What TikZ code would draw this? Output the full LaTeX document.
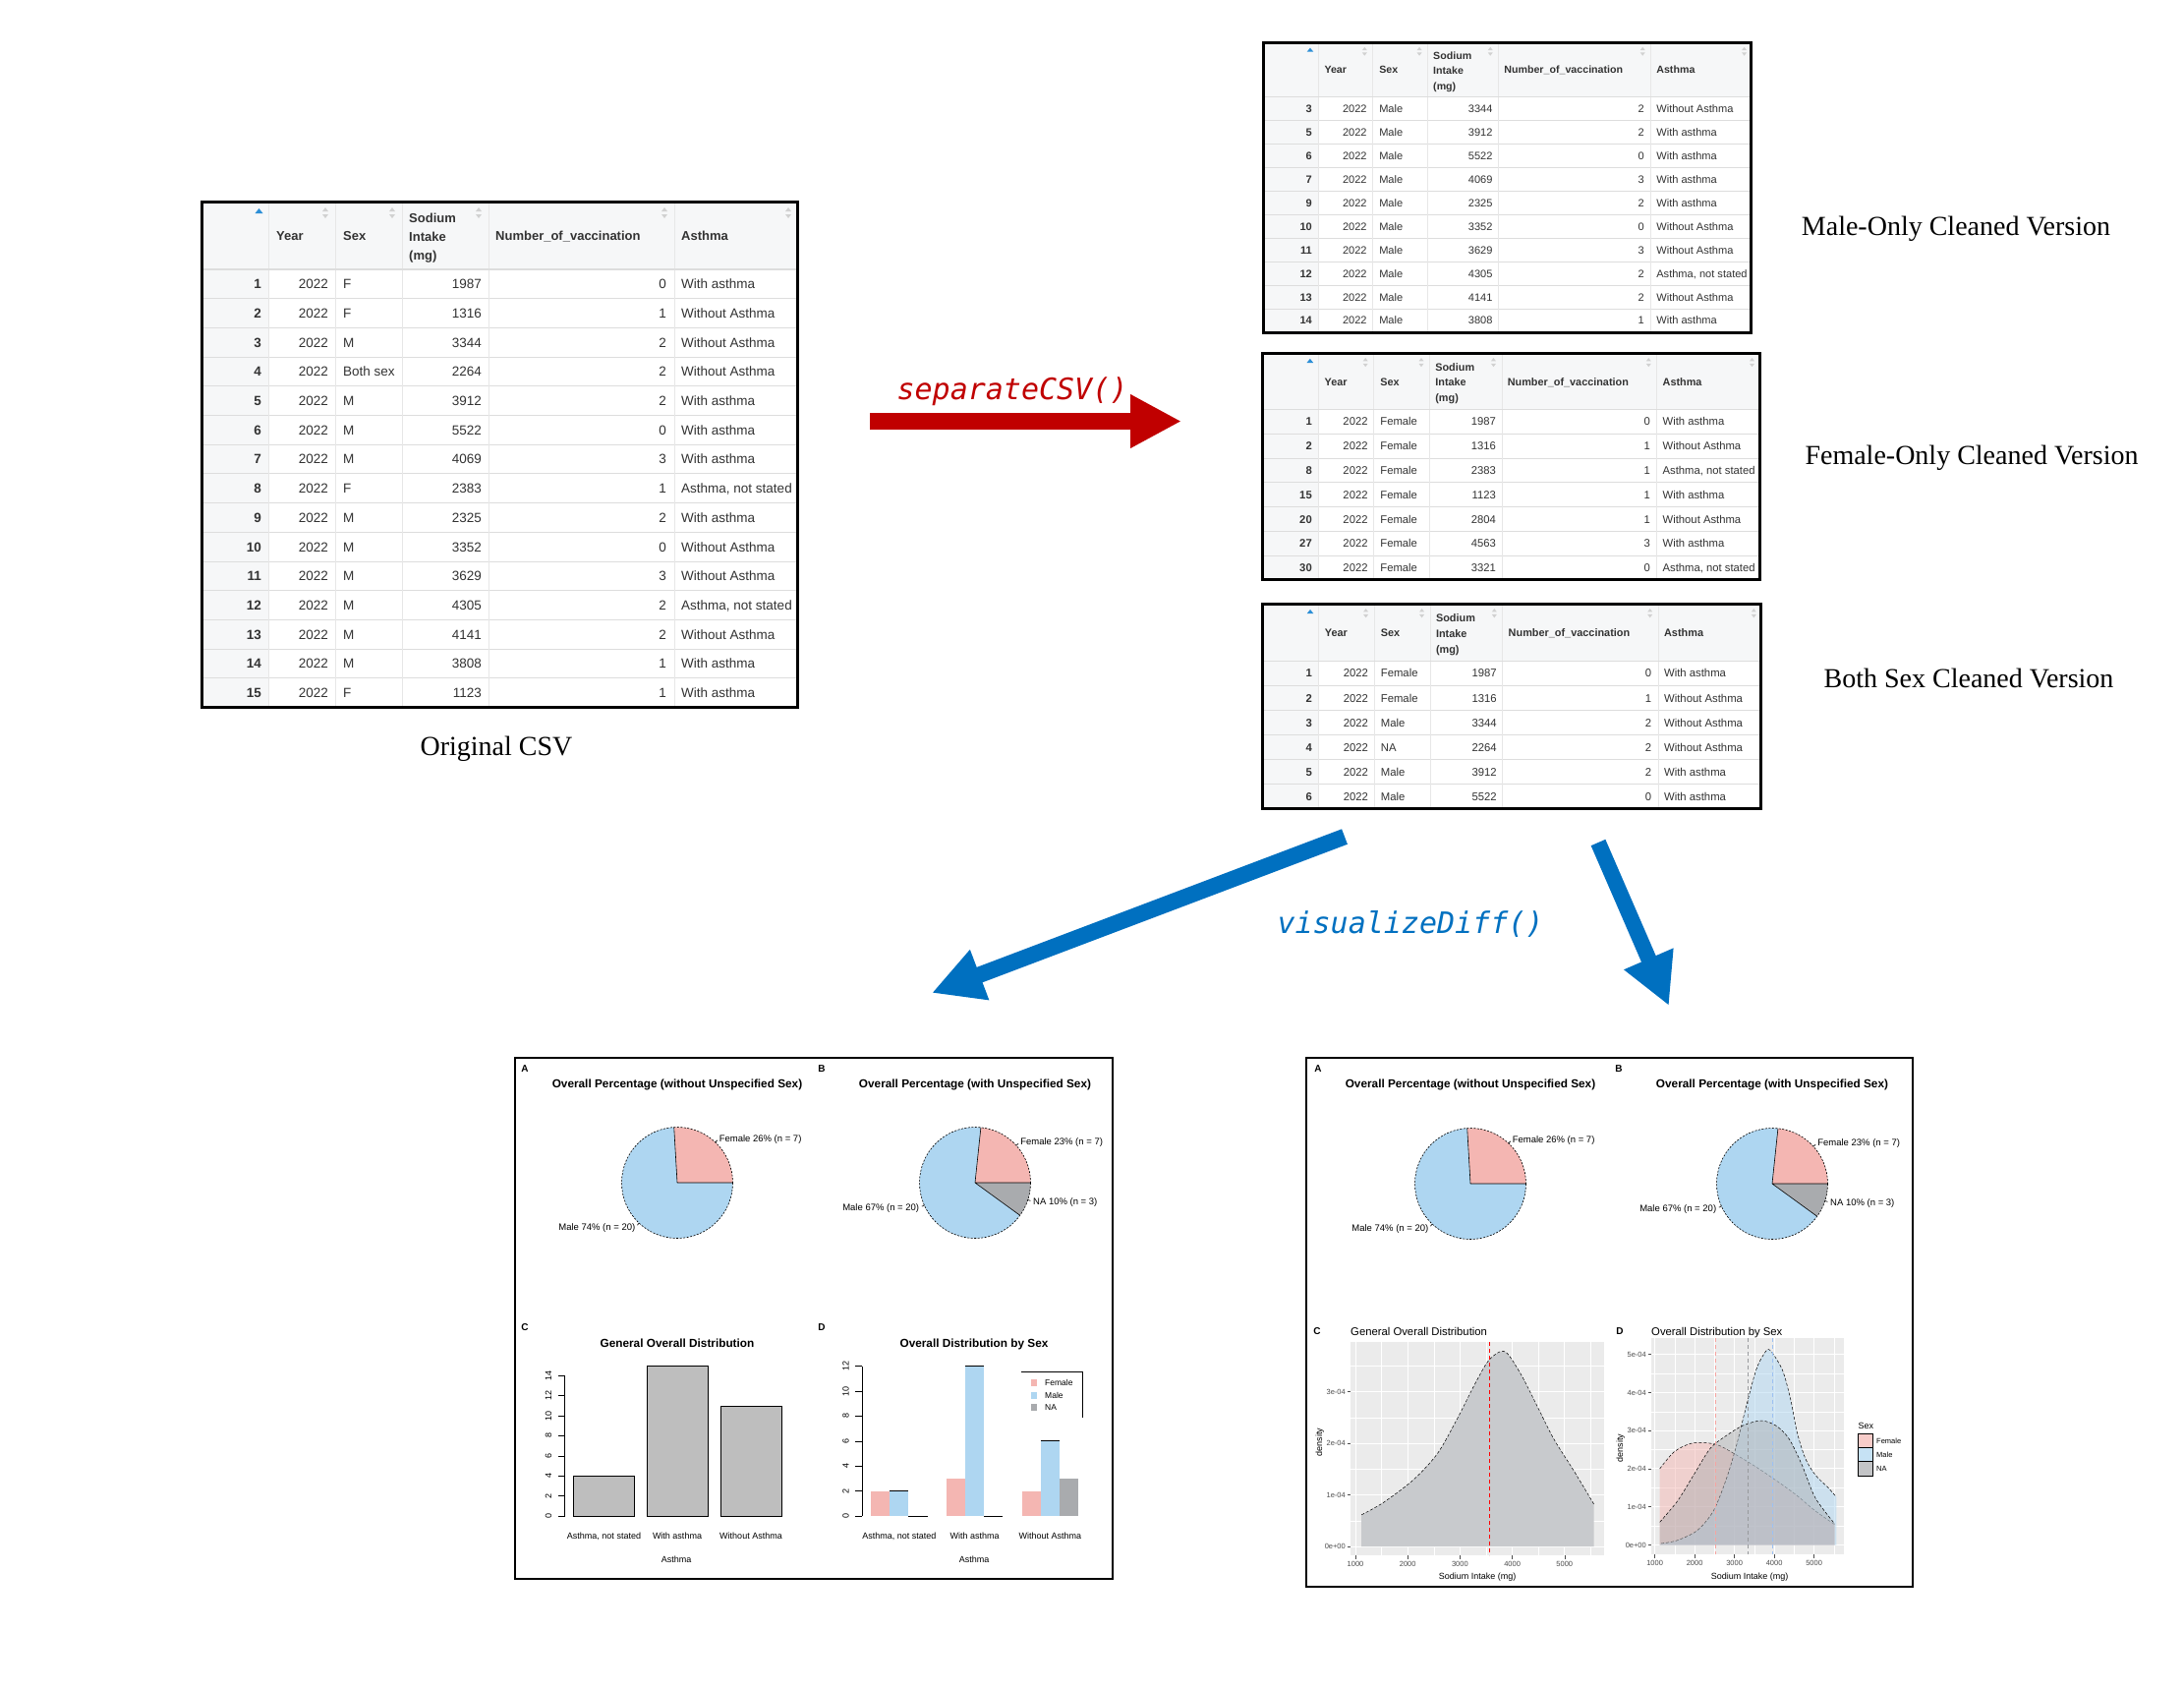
\documentclass[tikz,border=0pt]{standalone}
\usepackage{fontspec}
\setmainfont{Liberation Sans}
\newfontfamily\serifcap{Liberation Serif}
\newfontfamily\codefont{DejaVu Sans Mono}[ItalicFont={DejaVu Sans Mono Oblique}]
\usepackage{xcolor}
\usepackage{tikz}
\usetikzlibrary{arrows.meta}
\definecolor{arrowRed}{HTML}{C00000}
\definecolor{arrowBlue}{HTML}{0070C0}
\definecolor{femPink}{HTML}{F4B6B2}
\definecolor{maleBlue}{HTML}{AED6F1}
\definecolor{naGray}{HTML}{A9ABAE}
\definecolor{barGray}{HTML}{BEBEBE}
\definecolor{ggPanel}{HTML}{EBEBEB}
\definecolor{densFill}{HTML}{C8CACD}
\definecolor{ruleGray}{HTML}{DDDDDD}
\definecolor{headFill}{HTML}{F6F7F8}
\definecolor{axisText}{HTML}{4D4D4D}
\definecolor{sortBlue}{HTML}{2C8FD6}
\definecolor{cellText}{HTML}{333333}
\definecolor{meanRed}{HTML}{FF0000}

\newcommand{\setfs}[1]{\fontsize{#1}{#1}\selectfont}

% one data table in its own frame: #1 name, #2 rows, #3 id/sex/sodium/vacc/asthma
\newcommand{\csvtable}[3]{%
  \pgfmathsetmacro{\tabbot}{69+#2*29.7}
  \fill[headFill] (0,0) rectangle (606,69);
  \fill[headFill] (0,69) rectangle (68.5,\tabbot);
  \foreach \rid/\rsex/\rsod/\rvac/\rast [count=\rw] in {#3} {
    \pgfmathsetmacro{\yc}{69+(\rw-0.5)*29.7}
    \pgfmathsetmacro{\yb}{69+\rw*29.7}
    \draw[rowrule] (0,\yb) -- (606,\yb);
    \node[cellid, anchor=east] (#1-\rw-id)  at (61,\yc)  {\rid};
    \node[cellt, anchor=east]  (#1-\rw-yr)  at (129,\yc) {2022};
    \node[cellt, anchor=west]  (#1-\rw-sex) at (144,\yc) {\rsex};
    \node[cellt, anchor=east]  (#1-\rw-sod) at (285,\yc) {\rsod};
    \node[cellt, anchor=east]  (#1-\rw-vac) at (473,\yc) {\rvac};
    \node[cellt, anchor=west]  (#1-\rw-ast) at (488,\yc) {\rast};
  }
  \foreach \cx in {68.5,136,204,292,481}
    \draw[colrule] (\cx,0) -- (\cx,\tabbot);
  \draw[headrule] (0,69) -- (606,69);
  \node[headt]   (#1-h-yr)  at (76,35)  {Year};
  \node[headt]   (#1-h-sex) at (144,35) {Sex};
  \node[sodhead] (#1-h-sod) at (211,12) {Sodium\\Intake\\(mg)};
  \node[headt]   (#1-h-vac) at (299,35) {Number\_of\_vaccination};
  \node[headt]   (#1-h-ast) at (488,35) {Asthma};
  \foreach \cx in {126,194,282,471,597} {
    \fill[sorticon] (\cx-3,10) -- (\cx+3,10) -- (\cx,6) -- cycle;
    \fill[sorticon] (\cx-3,13) -- (\cx+3,13) -- (\cx,17) -- cycle;
  }
  \fill[sortBlue] (54.5,12) -- (62.5,12) -- (58.5,7) -- cycle;
  \draw[tabframe] (0,0) rectangle (606,\tabbot);
}

\begin{document}
\begin{tikzpicture}[
    x=1pt, y=-1pt,
    cellt/.style={inner sep=0pt, font=\setfs{13.5}, text=cellText, text height=9.7pt, text depth=0pt},
    cellid/.style={cellt, font=\setfs{13.5}\bfseries},
    headt/.style={inner sep=0pt, anchor=west, font=\setfs{13}\bfseries, text=cellText, text height=9.3pt, text depth=0pt},
    sodhead/.style={inner sep=0pt, anchor=north west, align=left, text=cellText, font=\fontsize{13}{19}\selectfont\bfseries},
    rowrule/.style={draw=ruleGray, line width=1pt},
    colrule/.style={draw=ruleGray!70, line width=0.6pt},
    headrule/.style={draw=ruleGray, line width=1.2pt},
    tabframe/.style={draw=black, line width=3pt},
    sorticon/.style={fill=black!18},
    capLabel/.style={inner sep=0pt, font=\serifcap\setfs{28}, text height=18.5pt, text depth=0pt},
    codeLabel/.style={inner sep=0pt, font=\codefont\itshape\setfs{30}, text height=21.9pt, text depth=0pt},
    bigArrow/.style={line width=17pt, -{Triangle[length=52pt, width=51pt]}},
    panelFrame/.style={draw=black, line width=2.5pt},
    panelTag/.style={inner sep=0pt, font=\setfs{10}\bfseries, text height=7.2pt, text depth=0pt},
    chartTitle/.style={inner sep=0pt, font=\setfs{11.8}\bfseries, text height=8.4pt, text depth=0pt},
    ggTitle/.style={inner sep=0pt, font=\setfs{11.3}, text height=8.1pt, text depth=0pt},
    pieLab/.style={inner sep=0pt, font=\setfs{9.5}, text height=6.8pt, text depth=0pt},
    pieEdge/.style={draw=black, line width=0.6pt},
    pieRim/.style={draw=black, line width=0.6pt, dash pattern=on 2pt off 1.5pt},
    axisBase/.style={draw=black, line width=0.6pt},
    baseTick/.style={inner sep=0pt, font=\setfs{9}, text height=6.4pt, text depth=0pt},
    baseLab/.style={inner sep=0pt, font=\setfs{9}, text height=6.4pt, text depth=0pt},
    barC/.style={fill=barGray, draw=black, line width=0.6pt},
    barTop/.style={draw=black, line width=0.8pt},
    legLab/.style={inner sep=0pt, font=\setfs{8.5}, text height=6.1pt, text depth=0pt},
    gridMinor/.style={draw=white, line width=0.4pt},
    gridMajor/.style={draw=white, line width=0.9pt},
    ggTick/.style={draw=axisText, line width=0.5pt},
    ggTickLab/.style={inner sep=0pt, font=\setfs{7.5}, text=axisText, text height=5.4pt, text depth=0pt},
    ggAxisTitle/.style={inner sep=0pt, font=\setfs{9}, text height=6.4pt, text depth=0pt},
    densLine/.style={draw=black, line width=0.5pt, dash pattern=on 3pt off 2pt},
    femDens/.style={fill=femPink, fill opacity=0.5},
    maleDens/.style={fill=maleBlue, fill opacity=0.5},
    naDens/.style={fill=naGray, fill opacity=0.45},
    meanLine/.style={line width=1pt, dash pattern=on 4pt off 3pt},
]

\fill[white] (0,0) rectangle (2222,1717);
\useasboundingbox (0,0) rectangle (2222,1717);

% original table
\begin{scope}[shift={(205,205)}]
\csvtable{orig}{15}{1/F/1987/0/With asthma, 2/F/1316/1/Without Asthma,
  3/M/3344/2/Without Asthma, 4/Both sex/2264/2/Without Asthma,
  5/M/3912/2/With asthma, 6/M/5522/0/With asthma, 7/M/4069/3/With asthma,
  8/F/2383/1/{Asthma, not stated}, 9/M/2325/2/With asthma,
  10/M/3352/0/Without Asthma, 11/M/3629/3/Without Asthma,
  12/M/4305/2/{Asthma, not stated}, 13/M/4141/2/Without Asthma,
  14/M/3808/1/With asthma, 15/F/1123/1/With asthma}
\end{scope}
\node[capLabel] (origcap) at (505,759) {Original CSV};

% cleaned tables
\begin{scope}[shift={(1285,43)}, xscale=0.82, yscale=0.806, transform shape]
\csvtable{male}{10}{3/Male/3344/2/Without Asthma, 5/Male/3912/2/With asthma,
  6/Male/5522/0/With asthma, 7/Male/4069/3/With asthma,
  9/Male/2325/2/With asthma, 10/Male/3352/0/Without Asthma,
  11/Male/3629/3/Without Asthma, 12/Male/4305/2/{Asthma, not stated},
  13/Male/4141/2/Without Asthma, 14/Male/3808/1/With asthma}
\end{scope}
\begin{scope}[shift={(1284,359)}, xscale=0.835, yscale=0.834, transform shape]
\csvtable{fem}{7}{1/Female/1987/0/With asthma, 2/Female/1316/1/Without Asthma,
  8/Female/2383/1/{Asthma, not stated}, 15/Female/1123/1/With asthma,
  20/Female/2804/1/Without Asthma, 27/Female/4563/3/With asthma,
  30/Female/3321/0/{Asthma, not stated}}
\end{scope}
\begin{scope}[shift={(1284,614)}, xscale=0.838, yscale=0.845, transform shape]
\csvtable{both}{6}{1/Female/1987/0/With asthma, 2/Female/1316/1/Without Asthma,
  3/Male/3344/2/Without Asthma, 4/NA/2264/2/Without Asthma,
  5/Male/3912/2/With asthma, 6/Male/5522/0/With asthma}
\end{scope}
\node[capLabel] (malecap) at (1990,230) {Male-Only Cleaned Version};
\node[capLabel] (femcap)  at (2006,463) {Female-Only Cleaned Version};
\node[capLabel] (bothcap) at (2003,690) {Both Sex Cleaned Version};

% separateCSV()
\coordinate (sep-start) at (885,428.5);
\coordinate (sep-end)   at (1202,428.5);
\draw[bigArrow, draw=arrowRed] (sep-start) -- (sep-end);
\node[codeLabel, text=arrowRed] (seplabel) at (1030,396) {separateCSV()};

% visualizeDiff()
\coordinate (visL-start) at (1368,851);
\coordinate (visL-end)   at (948,1010);
\coordinate (visR-start) at (1626,857);
\coordinate (visR-end)   at (1698,1023);
\draw[bigArrow, draw=arrowBlue, line width=16.5pt] (visL-start) -- (visL-end);
\draw[bigArrow, draw=arrowBlue, line width=16pt] (visR-start) -- (visR-end);
\node[codeLabel, text=arrowBlue] (vislabel) at (1435,939) {visualizeDiff()};

% output panels
\draw[panelFrame] (524,1076) rectangle (1132,1606);
\draw[panelFrame] (1329,1076) rectangle (1946,1614);

\foreach \pn/\ax/\bx/\py in {L/689/992/1203, R/1496/1803/1204} {
  \node[panelTag] (tagA-\pn) at (\ax-155,1087) {A};
  \node[panelTag] (tagB-\pn) at (\bx-156,1087) {B};
  \node[chartTitle] (titleA-\pn) at (\ax,1102.5) {Overall Percentage (without Unspecified Sex)};
  \node[chartTitle] (titleB-\pn) at (\bx,1102.5) {Overall Percentage (with Unspecified Sex)};
  % pie A
  \fill[femPink] (\ax,\py) -- ++(0:56.5) arc[start angle=0, end angle=-93.33, radius=56.5] -- cycle;
  \fill[maleBlue] (\ax,\py) -- ++(-93.33:56.5) arc[start angle=-93.33, end angle=-360, radius=56.5] -- cycle;
  \draw[pieEdge] (\ax,\py) -- ++(0:56.5) (\ax,\py) -- ++(-93.33:56.5);
  \draw[pieRim] (\ax,\py) circle[radius=56.5];
  \draw[pieEdge] (\ax,\py) ++(-46.67:56.5) -- ++(-46.67:2.8)
                 (\ax,\py) ++(-226.67:56.5) -- ++(-226.67:2.8);
  \path (\ax,\py) ++(-46.67:62) node[pieLab, anchor=west] (pieA-\pn-fem) {Female 26\% (n = 7)};
  \path (\ax,\py) ++(-226.67:62) node[pieLab, anchor=east] (pieA-\pn-male) {Male 74\% (n = 20)};
  % pie B
  \fill[femPink] (\bx,\py) -- ++(0:56.5) arc[start angle=0, end angle=-84, radius=56.5] -- cycle;
  \fill[maleBlue] (\bx,\py) -- ++(-84:56.5) arc[start angle=-84, end angle=-324, radius=56.5] -- cycle;
  \fill[naGray] (\bx,\py) -- ++(-324:56.5) arc[start angle=-324, end angle=-360, radius=56.5] -- cycle;
  \draw[pieEdge] (\bx,\py) -- ++(0:56.5) (\bx,\py) -- ++(-84:56.5) (\bx,\py) -- ++(-324:56.5);
  \draw[pieRim] (\bx,\py) circle[radius=56.5];
  \draw[pieEdge] (\bx,\py) ++(-42:56.5) -- ++(-42:2.8)
                 (\bx,\py) ++(-204:56.5) -- ++(-204:2.8)
                 (\bx,\py) ++(-342:56.5) -- ++(-342:2.8);
  \path (\bx,\py) ++(-42:62) node[pieLab, anchor=west] (pieB-\pn-fem) {Female 23\% (n = 7)};
  \path (\bx,\py) ++(-204:62) node[pieLab, anchor=east] (pieB-\pn-male) {Male 67\% (n = 20)};
  \path (\bx,\py) ++(-342:62) node[pieLab, anchor=west] (pieB-\pn-na) {NA 10\% (n = 3)};
}

% left panel, bar charts
\node[panelTag] (tagC-L) at (534,1350) {C};
\node[panelTag] (tagD-L) at (836,1350) {D};
\node[chartTitle] (titleC-L) at (689,1366) {General Overall Distribution};
\node[chartTitle] (titleD-L) at (991,1366) {Overall Distribution by Sex};

\draw[axisBase] (574.5,1542) -- (574.5,1399.2);
\foreach \v in {0,2,...,14} {
  \draw[axisBase] (574.5,{1542-10.2*\v}) -- ++(-7,0);
  \node[baseTick, rotate=90] (barC-y\v) at (558,{1542-10.2*\v}) {\v};
}
\foreach \bx/\bh in {583/4,658/15,733/11}
  \draw[barC] (\bx,1542) rectangle ++(62.5,{-10.2*\bh});
\node[baseLab] (barC-x1) at (614.5,1562) {Asthma, not stated};
\node[baseLab] (barC-x2) at (689,1562) {With asthma};
\node[baseLab] (barC-x3) at (764,1562) {Without Asthma};
\node[baseLab] (barC-xt) at (688,1586) {Asthma};

\draw[axisBase] (877,1542) -- (877,1389.6);
\foreach \v in {0,2,...,12} {
  \draw[axisBase] (877,{1542-12.7*\v}) -- ++(-7,0);
  \node[baseTick, rotate=90] (barD-y\v) at (860.5,{1542-12.7*\v}) {\v};
}
\foreach \fh/\mh/\nh [count=\g from 0] in {2/2/0,3/12/0,2/6/3} {
  \pgfmathsetmacro{\gx}{886+76.8*\g}
  \fill[femPink] (\gx,1542) rectangle ++(19.2,{-12.7*\fh});
  \fill[maleBlue] (\gx+19.2,1542) rectangle ++(19.2,{-12.7*\mh});
  \fill[naGray] (\gx+38.4,1542) rectangle ++(19.2,{-12.7*\nh});
  \draw[barTop] (\gx+19.2,{1542-12.7*\mh}) -- ++(19.2,0);
  \ifnum\nh=0 \draw[barTop] (\gx+38.4,1542) -- ++(19.2,0); \fi
}
\node[baseLab] (barD-x1) at (914.8,1562) {Asthma, not stated};
\node[baseLab] (barD-x2) at (991.6,1562) {With asthma};
\node[baseLab] (barD-x3) at (1068.4,1562) {Without Asthma};
\node[baseLab] (barD-xt) at (991,1586) {Asthma};
\draw[axisBase] (1039,1395) -- (1101,1395) -- (1101,1442);
\foreach \lab/\col/\ly in {Female/femPink/1406, Male/maleBlue/1419, NA/naGray/1431} {
  \fill[fill=\col] (1048.5,\ly-3.5) rectangle ++(6.5,7);
  \node[legLab, anchor=west] (barD-leg-\lab) at (1063,\ly) {\lab};
}

% right panel, density plots
\node[panelTag] (tagC-R) at (1340,1354) {C};
\node[ggTitle, anchor=west] (titleC-R) at (1374,1354) {General Overall Distribution};
\node[panelTag] (tagD-R) at (1648,1354) {D};
\node[ggTitle, anchor=west] (titleD-R) at (1680,1354) {Overall Distribution by Sex};

\fill[ggPanel] (1374,1365) rectangle (1632,1582);
\foreach \gx in {1405.6,1458.8,1512,1565.2,1618.4} \draw[gridMinor] (\gx,1365) -- (\gx,1582);
\foreach \gy in {1546.75,1494.25,1441.75,1389.25} \draw[gridMinor] (1374,\gy) -- (1632,\gy);
\foreach \gx in {1379,1432.2,1485.4,1538.6,1591.8} \draw[gridMajor] (\gx,1365) -- (\gx,1582);
\foreach \gy in {1573,1520.5,1468,1415.5} \draw[gridMajor] (1374,\gy) -- (1632,\gy);
\fill[densFill] (1385.2,1573) -- plot[smooth] coordinates {(1385.2,1540.8) (1407.6,1528.2)
  (1438.2,1505) (1462.7,1478.1) (1483,1442.3) (1499.3,1410.1) (1513.6,1385) (1525.8,1375)
  (1534,1377.2) (1548.3,1399.5) (1564.6,1431.6) (1580.9,1463.8) (1601.2,1496) (1621.6,1530)}
  -- (1621.6,1573) -- cycle;
\draw[densLine] plot[smooth] coordinates {(1385.2,1540.8) (1407.6,1528.2)
  (1438.2,1505) (1462.7,1478.1) (1483,1442.3) (1499.3,1410.1) (1513.6,1385) (1525.8,1375)
  (1534,1377.2) (1548.3,1399.5) (1564.6,1431.6) (1580.9,1463.8) (1601.2,1496) (1621.6,1530)};
\draw[meanLine, draw=meanRed, line width=1.5pt] (1515.6,1365) -- (1515.6,1582);
\foreach \v [count=\k from 0] in {1000,2000,3000,4000,5000} {
  \draw[ggTick] ({1379+53.2*\k},1582) -- ++(0,3.5);
  \node[ggTickLab] (ggC-x\v) at ({1379+53.2*\k},1591) {\v};
}
\foreach \v [count=\k from 0] in {0e+00,1e-04,2e-04,3e-04} {
  \draw[ggTick] (1374,{1573-52.5*\k}) -- ++(-3.5,0);
  \node[ggTickLab, anchor=east] (ggC-y\k) at (1369,{1573-52.5*\k}) {\v};
}
\node[ggAxisTitle, rotate=90] (ggC-ytitle) at (1342,1467) {density};
\node[ggAxisTitle] (ggC-xtitle) at (1503,1603) {Sodium Intake (mg)};

\fill[ggPanel] (1680,1361) rectangle (1876,1581);
\foreach \gx in {1703.85,1744.35,1784.85,1825.35,1865.85} \draw[gridMinor] (\gx,1361) -- (\gx,1581);
\foreach \gy in {1552.1,1513.3,1474.5,1435.7,1396.9} \draw[gridMinor] (1680,\gy) -- (1876,\gy);
\foreach \gx in {1683.6,1724.1,1764.6,1805.1,1845.6} \draw[gridMajor] (\gx,1361) -- (\gx,1581);
\foreach \gy in {1571.5,1532.7,1493.9,1455.1,1416.3,1377.5} \draw[gridMajor] (1680,\gy) -- (1876,\gy);
% female
\fill[femDens] (1688.6,1571.5) -- plot[smooth] coordinates {(1688.6,1494) (1703.3,1476.7)
  (1720,1468.3) (1736.7,1467.7) (1750,1470.7) (1766.7,1480) (1783.3,1490) (1803.3,1503.3)
  (1826.7,1520) (1846.7,1536.7) (1866.7,1550.7)} -- (1866.7,1571.5) -- cycle;
\draw[densLine] plot[smooth] coordinates {(1688.6,1494) (1703.3,1476.7)
  (1720,1468.3) (1736.7,1467.7) (1750,1470.7) (1766.7,1480) (1783.3,1490) (1803.3,1503.3)
  (1826.7,1520) (1846.7,1536.7) (1866.7,1550.7)};
% male
\fill[maleDens] (1688.6,1571.5) -- plot[smooth] coordinates {(1690,1570) (1706.7,1566.7)
  (1726.7,1556.7) (1743.3,1536.7) (1756.7,1503.3) (1766.7,1470) (1776.7,1430) (1786.7,1393.3)
  (1795,1376.7) (1800.7,1373.3) (1813.3,1393.3) (1821.7,1423.3) (1828.3,1456.7) (1836.7,1483.3)
  (1846.7,1500) (1860,1513.3) (1868.3,1522.7)} -- (1868.3,1571.5) -- cycle;
\draw[densLine] plot[smooth] coordinates {(1690,1570) (1706.7,1566.7)
  (1726.7,1556.7) (1743.3,1536.7) (1756.7,1503.3) (1766.7,1470) (1776.7,1430) (1786.7,1393.3)
  (1795,1376.7) (1800.7,1373.3) (1813.3,1393.3) (1821.7,1423.3) (1828.3,1456.7) (1836.7,1483.3)
  (1846.7,1500) (1860,1513.3) (1868.3,1522.7)};
% not stated
\fill[naDens] (1688.6,1571.5) -- plot[smooth] coordinates {(1688.6,1548.3) (1706.7,1526.7)
  (1723.3,1500) (1740,1473.3) (1756.7,1460) (1773.3,1450) (1791.7,1445) (1806.7,1450)
  (1820,1463.3) (1833.3,1490) (1846.7,1523.3) (1866.7,1550)} -- (1866.7,1571.5) -- cycle;
\draw[densLine] plot[smooth] coordinates {(1688.6,1548.3) (1706.7,1526.7)
  (1723.3,1500) (1740,1473.3) (1756.7,1460) (1773.3,1450) (1791.7,1445) (1806.7,1450)
  (1820,1463.3) (1833.3,1490) (1846.7,1523.3) (1866.7,1550)};
\draw[meanLine, draw=femPink!90!red] (1745.3,1361) -- (1745.3,1581);
\draw[meanLine, draw=naGray!90!black, line width=1.6pt] (1778.3,1361) -- (1778.3,1581);
\draw[meanLine, draw=maleBlue!90!blue] (1803.3,1361) -- (1803.3,1581);
\foreach \v [count=\k from 0] in {1000,2000,3000,4000,5000} {
  \draw[ggTick] ({1683.6+40.5*\k},1581) -- ++(0,3.5);
  \node[ggTickLab] (ggD-x\v) at ({1683.6+40.5*\k},1590) {\v};
}
\foreach \v [count=\k from 0] in {0e+00,1e-04,2e-04,3e-04,4e-04,5e-04} {
  \draw[ggTick] (1680,{1571.5-38.8*\k}) -- ++(-3.5,0);
  \node[ggTickLab, anchor=east] (ggD-y\k) at (1675,{1571.5-38.8*\k}) {\v};
}
\node[ggAxisTitle, rotate=90] (ggD-ytitle) at (1648,1473) {density};
\node[ggAxisTitle] (ggD-xtitle) at (1780,1603) {Sodium Intake (mg)};
\node[ggAxisTitle, anchor=west] (ggD-legtitle) at (1890.5,1450) {Sex};
\foreach \lab/\col/\ly in {Female/femPink/1458.3, Male/maleBlue/1472.5, NA/naGray/1486.7} {
  \filldraw[fill=\col!70, draw=black, line width=0.8pt] (1890.7,\ly) rectangle ++(14.3,14.2);
  \node[ggTickLab, text=black, anchor=west] (ggD-leg-\lab) at (1909,\ly+7.1) {\lab};
}

\end{tikzpicture}
\end{document}
